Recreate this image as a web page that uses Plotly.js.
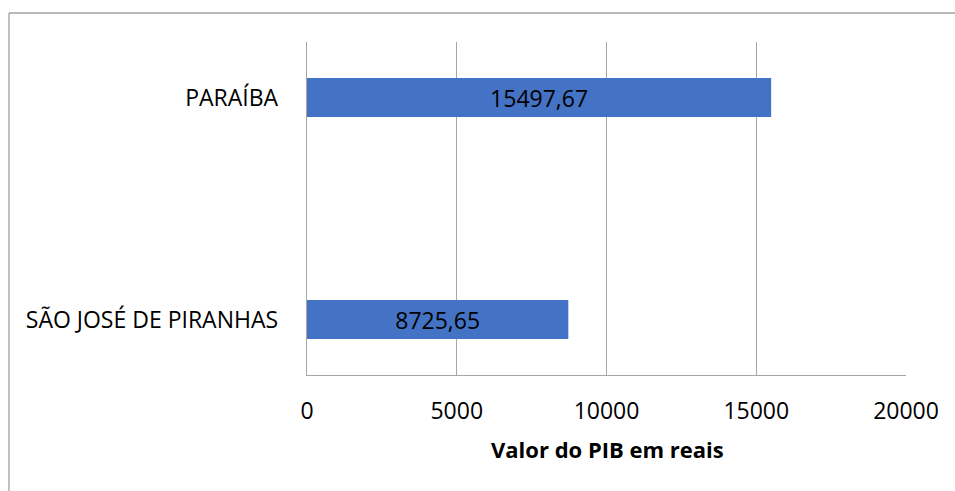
<!DOCTYPE html>
<html>
<head>
<meta charset="utf-8">
<script src="https://cdn.plot.ly/plotly-3.0.1.min.js"></script>
<style>html,body{margin:0;padding:0;background:#fff;}#chart{width:955px;height:491px;}</style>
</head>
<body>
<div id="chart"></div>
<script>
const categories = ["SÃO JOSÉ DE PIRANHAS", "PARAÍBA"];
const pibValues = [8725.65, 15497.67];
const xTickValues = [0, 5000, 10000, 15000, 20000];
const xTickLabels = ["0", "5000", "10000", "15000", "20000"];
const xAxisTitle = "Valor do PIB em reais";

const W = 955, H = 491, L = 307, R = 49, T = 42, B = 116;
const pw = W - L - R, ph = H - T - B;
const px = v => (v - L) / pw;
const py = v => (H - B - v) / ph;
const FONT = "Open Sans, Noto Sans, sans-serif";
const grid = "#a6a6a6";

const trace = {
  type: "bar",
  orientation: "h",
  y: categories,
  x: pibValues,
  marker: {color: "#4472C4"},
  width: 0.175,
  text: pibValues.map(v => String(v).replace(".", ",")),
  textposition: "inside",
  insidetextanchor: "middle",
  constraintext: "none",
  textangle: 0,
  textfont: {family: FONT, size: 23, color: "#000"},
  hoverinfo: "none"
};

const layout = {
  width: W, height: H,
  margin: {l: L, r: R, t: T, b: B, pad: 0},
  paper_bgcolor: "#fff", plot_bgcolor: "#fff",
  showlegend: false,
  font: {family: FONT, color: "#000"},
  xaxis: {
    range: [0, 20000],
    tickvals: xTickValues, ticktext: xTickLabels,
    showgrid: true, gridcolor: grid, gridwidth: 1.3,
    zeroline: false,
    showline: true, linecolor: grid, linewidth: 1.3,
    ticks: "", ticklabelstandoff: 15,
    tickfont: {family: FONT, size: 23, color: "#000"},
    fixedrange: true
  },
  yaxis: {
    type: "category",
    range: [-0.25, 1.25],
    showgrid: false, zeroline: false,
    showline: true, linecolor: grid, linewidth: 1.3,
    ticks: "", ticklabelstandoff: 23,
    tickfont: {family: FONT, size: 23, color: "#000"},
    fixedrange: true
  },
  annotations: [{
    text: "<b>" + xAxisTitle + "</b>",
    xref: "paper", yref: "paper",
    x: px(607.5), y: py(449),
    xanchor: "center", yanchor: "middle",
    showarrow: false,
    font: {family: FONT, size: 22, color: "#000"}
  }],
  shapes: [
    {type: "line", xref: "paper", yref: "paper", x0: px(9), x1: px(956), y0: py(13), y1: py(13), line: {color: "#a0a0a0", width: 1.3}},
    {type: "line", xref: "paper", yref: "paper", x0: px(9), x1: px(9), y0: py(13), y1: py(492), line: {color: "#a0a0a0", width: 1.3}}
  ]
};

Plotly.newPlot("chart", [trace], layout, {displayModeBar: false, staticPlot: true});
</script>
</body>
</html>
